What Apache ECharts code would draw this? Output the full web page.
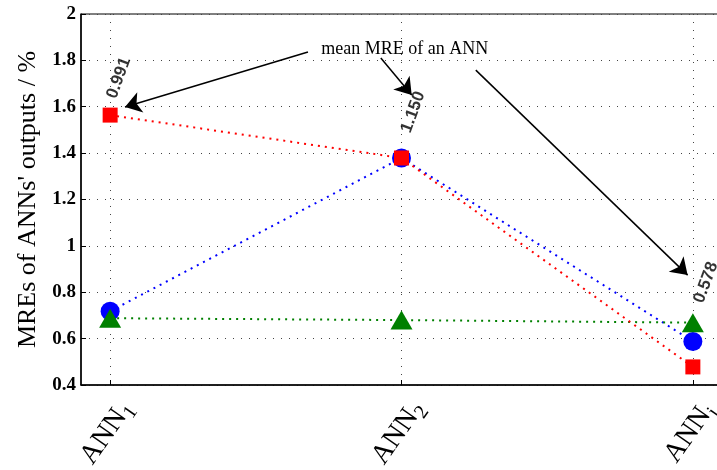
<!DOCTYPE html>
<html>
<head>
<meta charset="utf-8">
<script src="https://cdn.jsdelivr.net/npm/echarts@6/dist/echarts.min.js"></script>
<style>
html,body{margin:0;padding:0;background:#fff;}
#c{width:717px;height:470px;}
</style>
</head>
<body>
<div id="c"></div>
<script>
// ---- data ----
const subscripts = ['1', '2', 'j'];
const xPositions = [1, 2, 3];
const redMRE = [1.564, 1.379, 0.478];
const blueMRE = [0.718, 1.379, 0.588];
const greenMRE = [0.688, 0.680, 0.669];
const meanMRE = [0.991, 1.150, 0.578];
const meanLabelX = [1.03, 2.04, 3.045];
const meanLabelY = [1.724, 1.577, 0.842];
const annotationText = 'mean MRE of an ANN';
const annotationPos = [2.011, 1.849];
const arrows = [
  [[1.679, 1.836], [1.051, 1.599]],
  [[1.929, 1.810], [2.035, 1.651]],
  [[2.255, 1.758], [2.982, 0.874]]
];

const serif = 'Liberation Serif';
const sans = 'Liberation Sans';

function pairs(ys) { return xPositions.map((x, i) => [x, ys[i]]); }

const chart = echarts.init(document.getElementById('c'));
const dotted = [2, 5];
chart.setOption({
  animation: false,
  backgroundColor: '#fff',
  grid: { left: 81, top: 14, width: 641, height: 371, outerBoundsMode: 'none', containLabel: false, show: true, borderColor: '#000', borderWidth: 1, backgroundColor: 'transparent' },
  xAxis: {
    type: 'value', min: 0.9, max: 3.1,
    axisLine: { show: true, lineStyle: { color: '#000', width: 1.5 } },
    axisTick: { show: true, inside: true, length: 5, customValues: xPositions, lineStyle: { color: '#000' } },
    axisLabel: {
      customValues: xPositions,
      rotate: 55,
      align: 'center',
      verticalAlign: 'middle',
      margin: 50,
      formatter: v => '{a|ANN}{s|' + subscripts[Math.round(v) - 1] + '}',
      rich: {
        a: { fontFamily: serif, fontSize: 28, color: '#000' },
        s: { fontFamily: serif, fontSize: 20, color: '#000', padding: [16, 0, 0, 0] }
      },
      padding: [0, 0, 8, 0]
    },
    splitLine: { show: true, lineStyle: { color: '#444', type: [1, 7], width: 1 } }
  },
  yAxis: {
    type: 'value', min: 0.4, max: 2, interval: 0.2,
    name: "MREs of ANNs' outputs / %",
    nameLocation: 'middle', nameRotate: 90, nameGap: 35,
    nameTextStyle: { fontFamily: serif, fontSize: 26, color: '#000' },
    axisLine: { show: true, lineStyle: { color: '#000', width: 1.5 } },
    axisTick: { show: true, inside: true, length: 5, lineStyle: { color: '#000' } },
    axisLabel: {
      margin: 5,
      fontFamily: serif, fontWeight: 'bold', fontSize: 19, color: '#000',
      formatter: v => String(+v.toFixed(1))
    },
    splitLine: { show: true, lineStyle: { color: '#444', type: [1, 7], width: 1 } }
  },
  series: [
    {
      name: 'blue', type: 'line', data: pairs(blueMRE),
      symbol: 'circle', symbolSize: 19,
      itemStyle: { color: '#0000ff' },
      lineStyle: { color: '#0000ff', width: 2, type: dotted },
      z: 2
    },
    {
      name: 'green', type: 'line', data: pairs(greenMRE),
      symbol: 'triangle', symbolSize: [22, 19],
      itemStyle: { color: '#008000' },
      lineStyle: { color: '#008000', width: 2, type: dotted },
      z: 3
    },
    {
      name: 'red', type: 'line', data: pairs(redMRE),
      symbol: 'rect', symbolSize: 15,
      itemStyle: { color: '#ff0000' },
      lineStyle: { color: '#ff0000', width: 2, type: dotted },
      z: 4
    },
    {
      name: 'mean', type: 'scatter',
      data: meanMRE.map((m, i) => [meanLabelX[i], meanLabelY[i], m]),
      symbolSize: 1,
      itemStyle: { color: 'rgba(0,0,0,0)' },
      z: 6,
      label: {
        show: true, position: 'inside', rotate: 70,
        fontFamily: sans, fontWeight: 'bold', fontSize: 17, color: '#000',
        formatter: p => p.value[2].toFixed(3)
      },
      markPoint: {
        symbol: 'circle', symbolSize: 1,
        itemStyle: { color: 'rgba(0,0,0,0)' },
        label: { show: true, position: 'inside', fontFamily: serif, fontSize: 18, color: '#000', formatter: annotationText },
        data: [{ coord: annotationPos, value: 0 }]
      }
    },
    {
      name: 'arrows', type: 'line', data: [],
      markLine: {
        silent: true,
        symbol: ['none', 'arrow'], symbolSize: 16,
        itemStyle: { color: '#000' },
        lineStyle: { color: '#000', width: 1.5, type: 'solid' },
        label: { show: false },
        data: arrows.map(a => [{ coord: a[0] }, { coord: a[1] }])
      },
      z: 7
    }
  ]
});
</script>
</body>
</html>
